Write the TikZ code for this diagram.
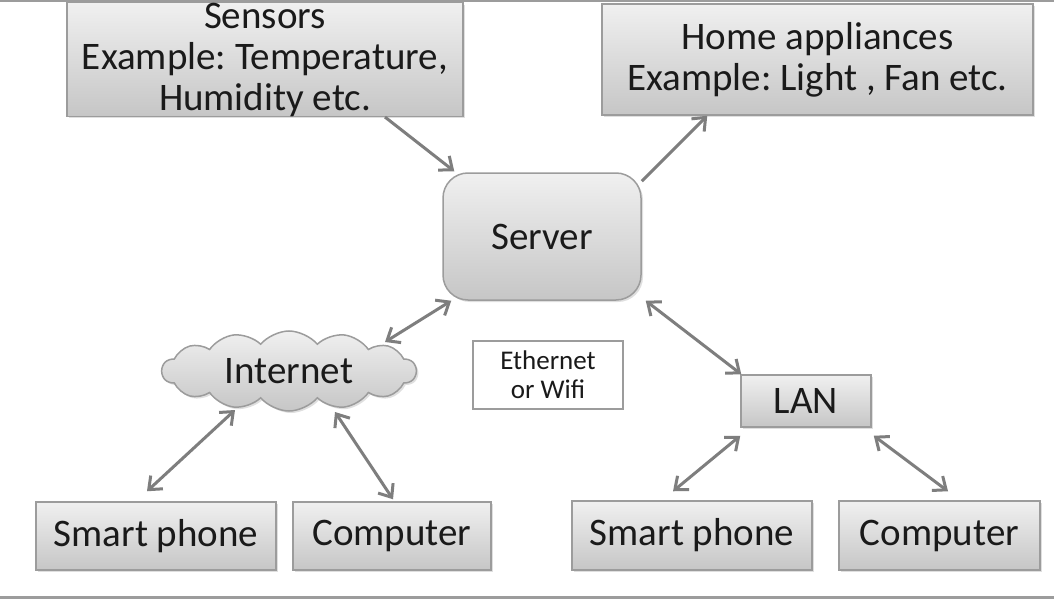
\documentclass[tikz,border=0pt]{standalone}
\usepackage{fontspec}
\setmainfont{Carlito}
\usetikzlibrary{arrows.meta,shapes.symbols,shadows}
\definecolor{boxtop}{HTML}{F0F0F0}
\definecolor{boxbot}{HTML}{C6C6C6}
\definecolor{boxline}{HTML}{9C9C9C}
\definecolor{arrowgray}{HTML}{7E7E7E}
\definecolor{txt}{HTML}{1A1A1A}
\tikzset{
  gbox/.style={draw=boxline, line width=1.5pt, top color=boxtop, bottom color=boxbot,
    inner sep=0pt, align=center, text=txt, font=\frenchspacing\fontsize{39}{41}\selectfont,
    drop shadow={opacity=0.25, shadow xshift=2pt, shadow yshift=-2pt}},
  conn/.style={draw=arrowgray, line width=3pt,
    arrows={-Straight Barb[length=11pt,width=18pt]}},
  biconn/.style={conn, arrows={Straight Barb[length=11pt,width=18pt]-Straight Barb[length=11pt,width=18pt]}},
  frameline/.style={draw=boxline, line width=3pt}
}
\begin{document}
\begin{tikzpicture}[x=1pt,y=-1pt]
\useasboundingbox (0,0) rectangle (1054,599);
\fill[white] (0,0) rectangle (1054,599);
\coordinate (tl) at (0,1);
\coordinate (tr) at (1054,1);
\coordinate (bl) at (0,597);
\coordinate (br) at (1054,597);
\draw[frameline] (tl) -- (tr);
\draw[frameline] (bl) -- (br);

\node[gbox, minimum width=396pt, minimum height=111pt] (sensors) at (265,59.5)
  {Sensors\\Example: Temperature,\\Humidity etc.};
\node[gbox, minimum width=431pt, minimum height=111pt] (home) at (817.5,59.5)
  {Home appliances\\Example: Light , Fan etc.};
\node[gbox, rounded corners=25pt, minimum width=198pt, minimum height=127pt] (server) at (542,236.5) {Server};
\node[gbox, cloud, cloud puffs=14, cloud puff arc=100, aspect=3.2,
  minimum width=254pt, minimum height=80pt] (internet) at (289,371) {Internet};
\node[draw=boxline, line width=2pt, fill=white, inner sep=0pt, align=center, text=txt,
  font=\fontsize{27}{29}\selectfont, minimum width=150pt, minimum height=68pt] (eth) at (548,375)
  {Ethernet\\or Wifi};
\node[gbox, minimum width=130pt, minimum height=52pt] (lan) at (806,401) {LAN};
\node[gbox, minimum width=240pt, minimum height=68pt] (sp1) at (156,536) {Smart phone};
\node[gbox, minimum width=198pt, minimum height=68pt] (c1) at (392,536) {Computer};
\node[gbox, minimum width=240pt, minimum height=69pt] (sp2) at (692,535.5) {Smart phone};
\node[gbox, minimum width=201pt, minimum height=69pt] (c2) at (939.5,535.5) {Computer};

\draw[conn] ([xshift=120pt]sensors.south) -- ([xshift=12pt,yshift=1pt]server.north west);
\draw[conn] ([yshift=-9pt]server.north east) -- ([xshift=106pt]home.south west);
\draw[biconn] ([xshift=96pt,yshift=29pt]internet.center) -- ([xshift=9pt]server.south west);
\draw[biconn] ([xshift=4pt]server.south east) -- ([xshift=1pt]lan.north west);
\draw[biconn] ([xshift=-54pt,yshift=-39pt]internet.center) -- ([xshift=-9pt,yshift=10pt]sp1.north);
\draw[biconn] ([xshift=46pt,yshift=-41pt]internet.center) -- ([xshift=1pt,yshift=2pt]c1.north);
\draw[biconn] ([yshift=-8pt]lan.south west) -- ([xshift=-19pt,yshift=9pt]sp2.north);
\draw[biconn] ([xshift=2pt,yshift=-8pt]lan.south east) -- ([xshift=8.5pt,yshift=9pt]c2.north);
\end{tikzpicture}
\end{document}
